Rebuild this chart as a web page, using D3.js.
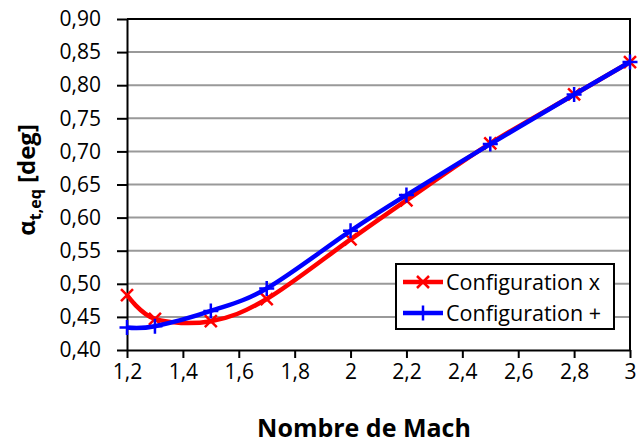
<!DOCTYPE html>
<html>
<head>
<meta charset="utf-8">
<script src="https://cdn.jsdelivr.net/npm/d3@7"></script>
<style>
  html, body { margin: 0; padding: 0; background: #fff; }
  svg { display: block; font-family: "Open Sans", sans-serif; }
</style>
</head>
<body>
<svg id="chart" width="638" height="444"></svg>
<script>
// Mach numbers at which the equilibrium angle was computed
const mach = [1.2, 1.3, 1.5, 1.7, 2.0, 2.2, 2.5, 2.8, 3.0];
// Equilibrium trim angle alpha_t,eq [deg] for each fin configuration
const configX    = [0.483, 0.447, 0.4435, 0.477, 0.567, 0.626, 0.712, 0.786, 0.835];
const configPlus = [0.434, 0.436, 0.459, 0.493, 0.580, 0.634, 0.711, 0.786, 0.835];
const seriesNames = ["Configuration x", "Configuration +"];

// Axis ticks and their labels
const xTicks = [1.2, 1.4, 1.6, 1.8, 2.0, 2.2, 2.4, 2.6, 2.8, 3.0];
const xTickLabels = ["1,2", "1,4", "1,6", "1,8", "2", "2,2", "2,4", "2,6", "2,8", "3"];
const yTicks = [0.40, 0.45, 0.50, 0.55, 0.60, 0.65, 0.70, 0.75, 0.80, 0.85, 0.90];
const yTickLabels = ["0,40", "0,45", "0,50", "0,55", "0,60", "0,65", "0,70", "0,75", "0,80", "0,85", "0,90"];

const svg = d3.select("#chart");
const plot = { left: 127, right: 630, top: 19, bottom: 350 };

const x = d3.scaleLinear().domain([1.2, 3.0]).range([plot.left, plot.right]);
const y = d3.scaleLinear().domain([0.40, 0.90]).range([plot.bottom, plot.top]);

// Horizontal gridlines
svg.append("g")
  .selectAll("line")
  .data(yTicks.slice(1, -1))
  .join("line")
  .attr("x1", plot.left).attr("x2", plot.right)
  .attr("y1", d => y(d)).attr("y2", d => y(d))
  .attr("stroke", "#999").attr("stroke-width", 2);

// Top and right frame of the plot area
svg.append("path")
  .attr("d", `M${plot.left},${plot.top}H${plot.right}V${plot.bottom}`)
  .attr("fill", "none").attr("stroke", "#000").attr("stroke-width", 2);

// Axes
const yAxis = d3.axisLeft(y)
  .tickValues(yTicks)
  .tickFormat((d, i) => yTickLabels[i])
  .tickSizeInner(10).tickSizeOuter(0).tickPadding(16);
const gy = svg.append("g").attr("transform", `translate(${plot.left},0)`).call(yAxis);

const xAxis = d3.axisBottom(x)
  .tickValues(xTicks)
  .tickFormat((d, i) => xTickLabels[i])
  .tickSizeInner(8).tickSizeOuter(0).tickPadding(6);
const gx = svg.append("g").attr("transform", `translate(0,${plot.bottom})`).call(xAxis);

[gx, gy].forEach(g => {
  g.select(".domain").attr("stroke", "#000").attr("stroke-width", 2);
  g.selectAll(".tick line").attr("stroke", "#000").attr("stroke-width", 2);
  g.selectAll(".tick text")
    .attr("fill", "#000")
    .style("font-family", "'Open Sans', sans-serif")
    .style("font-size", "21px");
});

// Axis titles
svg.append("text")
  .attr("x", 364).attr("y", 437)
  .attr("text-anchor", "middle")
  .style("font-weight", "bold").style("font-size", "25px")
  .text("Nombre de Mach");

const yTitle = svg.append("text")
  .attr("transform", "translate(35,180) rotate(-90)")
  .attr("text-anchor", "middle")
  .style("font-weight", "bold").style("font-size", "24px");
yTitle.append("tspan").text("α");
yTitle.append("tspan").attr("dy", 6).style("font-size", "16px").text("t,eq");
yTitle.append("tspan").attr("dy", -6).text(" [deg]");

// Series
const line = d3.line()
  .x(d => x(d[0]))
  .y(d => y(d[1]))
  .curve(d3.curveCardinal.tension(0));

const series = [
  { name: seriesNames[0], values: configX, color: "#ff0000", marker: "x" },
  { name: seriesNames[1], values: configPlus, color: "#0000ff", marker: "+" }
];

function markerPath(type, s) {
  return type === "x"
    ? `M${-s},${-s}L${s},${s}M${-s},${s}L${s},${-s}`
    : `M${-s},0H${s}M0,${-s}V${s}`;
}

series.forEach(sr => {
  const pts = mach.map((m, i) => [m, sr.values[i]]);
  svg.append("path")
    .datum(pts)
    .attr("d", line)
    .attr("fill", "none")
    .attr("stroke", sr.color)
    .attr("stroke-width", 4.5)
    .attr("stroke-linejoin", "round");
  svg.append("g")
    .selectAll("path")
    .data(pts)
    .join("path")
    .attr("transform", d => `translate(${x(d[0])},${y(d[1])})`)
    .attr("d", markerPath(sr.marker, sr.marker === "x" ? 6 : 7.5))
    .attr("stroke", sr.color)
    .attr("stroke-width", 2.5)
    .attr("fill", "none");
});

// Legend
const legend = svg.append("g");
legend.append("rect")
  .attr("x", 396).attr("y", 264).attr("width", 218).attr("height", 65)
  .attr("fill", "#fff").attr("stroke", "#000").attr("stroke-width", 2);

series.forEach((sr, i) => {
  const cy = 282 + i * 31;
  legend.append("line")
    .attr("x1", 403).attr("x2", 443).attr("y1", cy).attr("y2", cy)
    .attr("stroke", sr.color).attr("stroke-width", 4.5);
  legend.append("path")
    .attr("transform", `translate(423,${cy})`)
    .attr("d", markerPath(sr.marker, sr.marker === "x" ? 6 : 7.5))
    .attr("stroke", sr.color).attr("stroke-width", 2.5).attr("fill", "none");
  legend.append("text")
    .attr("x", 446).attr("y", cy)
    .attr("dy", "0.35em")
    .style("font-size", "21.5px")
    .text(sr.name);
});
</script>
</body>
</html>
